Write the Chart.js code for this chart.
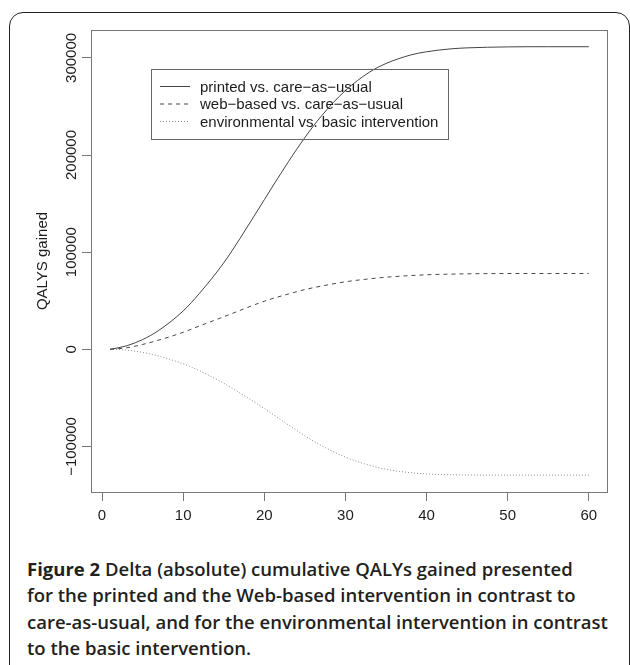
<!DOCTYPE html>
<html><head><meta charset="utf-8">
<script src="https://cdn.jsdelivr.net/npm/chart.js@4.4.1/dist/chart.umd.min.js"></script>
<style>
html,body{margin:0;padding:0;background:#fff;width:630px;height:665px;overflow:hidden;}
#frame{position:absolute;left:9px;top:12px;width:621px;height:720px;border:1.6px solid #222;border-radius:14px;box-sizing:border-box;}
#wrap{position:absolute;left:0;top:0;width:630px;height:530px;}
#cap{position:absolute;left:27px;top:555.5px;font-family:"Open Sans";font-weight:600;font-size:18.5px;line-height:26.5px;color:#231f20;white-space:nowrap;}
#cap b{font-weight:700;}
</style></head>
<body>
<div id="frame"></div>
<div id="wrap"><canvas id="c" width="630" height="530"></canvas></div>
<div id="cap"><b>Figure 2</b> Delta (absolute) cumulative QALYs gained presented<br>for the printed and the Web-based intervention in contrast to<br>care-as-usual, and for the environmental intervention in contrast<br>to the basic intervention.</div>
<script>
const times   = [1,3,5,7,10,12,15,17,20,23,25,27,30,33,35,38,40,43,45,50,55,60];
const printed = [0,3500,10000,19500,39500,57500,89000,114000,154000,193500,218000,239800,266400,285500,294200,302900,306300,309300,310300,311300,311500,311500];
const webBased = [0,1500,5000,9500,17500,24000,33500,40000,49500,57000,61500,65000,69500,72600,74200,75900,76700,77400,77700,78000,78000,78000];
const environmental = [0,-800,-3200,-7000,-15000,-22000,-35000,-45000,-61000,-78000,-89000,-99000,-111000,-119500,-123500,-127000,-128300,-129100,-129400,-129500,-129500,-129500];
const seriesNames = ["printed vs. care\u2212as\u2212usual","web\u2212based vs. care\u2212as\u2212usual","environmental vs. basic intervention"];
const xTicks = [0,10,20,30,40,50,60];
const yTicks = [-100000,0,100000,200000,300000];
const xTitle = "time";
const yTitle = "QALYS gained";

const FONT = '"Liberation Sans", Arial, sans-serif';
const TXT = '#1c1c1c';

const rPlot = {
  id: 'rplot',
  afterDraw(chart) {
    const ctx = chart.ctx, a = chart.chartArea;
    const ys = chart.scales.y;
    ctx.save();
    ctx.strokeStyle = '#777'; ctx.lineWidth = 1;
    ctx.strokeRect(Math.round(a.left)+0.5, Math.round(a.top)+0.5, Math.round(a.right-a.left)-1, Math.round(a.bottom-a.top));
    ctx.fillStyle = TXT;
    ctx.font = '15px ' + FONT;
    yTicks.forEach(v => {
      const y = ys.getPixelForValue(v);
      ctx.save();
      ctx.translate(76, y);
      ctx.rotate(-Math.PI/2);
      ctx.textAlign = 'center'; ctx.textBaseline = 'alphabetic';
      ctx.fillText(String(v).replace('-', '\u2212'), 0, 0);
      ctx.restore();
    });
    ctx.save();
    ctx.translate(47, (a.top + a.bottom)/2);
    ctx.rotate(-Math.PI/2);
    ctx.textAlign = 'center'; ctx.textBaseline = 'alphabetic';
    ctx.fillText(yTitle, 0, 0);
    ctx.restore();
    ctx.textAlign = 'center'; ctx.textBaseline = 'alphabetic';
    ctx.fillText(xTitle, (a.left + a.right)/2, 542.5);
    const lx = 151.5, ly = 69.5, lw = 297, lh = 70;
    ctx.strokeStyle = '#666'; ctx.lineWidth = 1;
    ctx.strokeRect(lx, ly, lw, lh);
    const rows = [86.5, 104, 121.5];
    chart.data.datasets.forEach((ds, i) => {
      ctx.save();
      ctx.strokeStyle = ds.borderColor; ctx.lineWidth = ds.borderWidth;
      ctx.setLineDash(ds.borderDash || []);
      ctx.beginPath(); ctx.moveTo(160, rows[i]); ctx.lineTo(190, rows[i]); ctx.stroke();
      ctx.restore();
      ctx.fillStyle = TXT; ctx.textAlign = 'left';
      ctx.fillText(ds.label, 200, rows[i] + 5.3);
    });
    ctx.restore();
  }
};

const mk = vals => times.map((t, i) => ({x: t, y: vals[i]}));

new Chart(document.getElementById('c'), {
  type: 'line',
  data: {
    datasets: [
      {label: seriesNames[0], data: mk(printed), borderColor: '#444', borderWidth: 1, borderDash: []},
      {label: seriesNames[1], data: mk(webBased), borderColor: '#484848', borderWidth: 1, borderDash: [4,4]},
      {label: seriesNames[2], data: mk(environmental), borderColor: '#8a8a8a', borderWidth: 1, borderDash: [1,2]}
    ]
  },
  options: {
    responsive: false, animation: false, devicePixelRatio: 1,
    layout: {padding: {left: 0, top: 30, right: 22, bottom: 0}},
    elements: {point: {radius: 0}, line: {cubicInterpolationMode: 'monotone', fill: false}},
    plugins: {legend: {display: false}, tooltip: {enabled: false}},
    scales: {
      x: {
        type: 'linear', min: -1.36, max: 62.36,
        afterBuildTicks: s => { s.ticks = xTicks.map(v => ({value: v})); },
        afterFit: s => { s.height = 38; },
        border: {display: false},
        grid: {display: true, drawOnChartArea: false, drawTicks: true, tickLength: 9, color: '#777', tickColor: '#777'},
        ticks: {color: TXT, font: {family: FONT, size: 15}, padding: 6, maxRotation: 0, autoSkip: false}
      },
      y: {
        type: 'linear', min: -146900, max: 328700,
        afterBuildTicks: s => { s.ticks = yTicks.map(v => ({value: v})); },
        afterFit: s => { s.width = 91; },
        border: {display: false},
        grid: {display: true, drawOnChartArea: false, drawTicks: true, tickLength: 9, color: '#777', tickColor: '#777'},
        ticks: {display: false}
      }
    }
  },
  plugins: [rPlot]
});
</script>
</body></html>
